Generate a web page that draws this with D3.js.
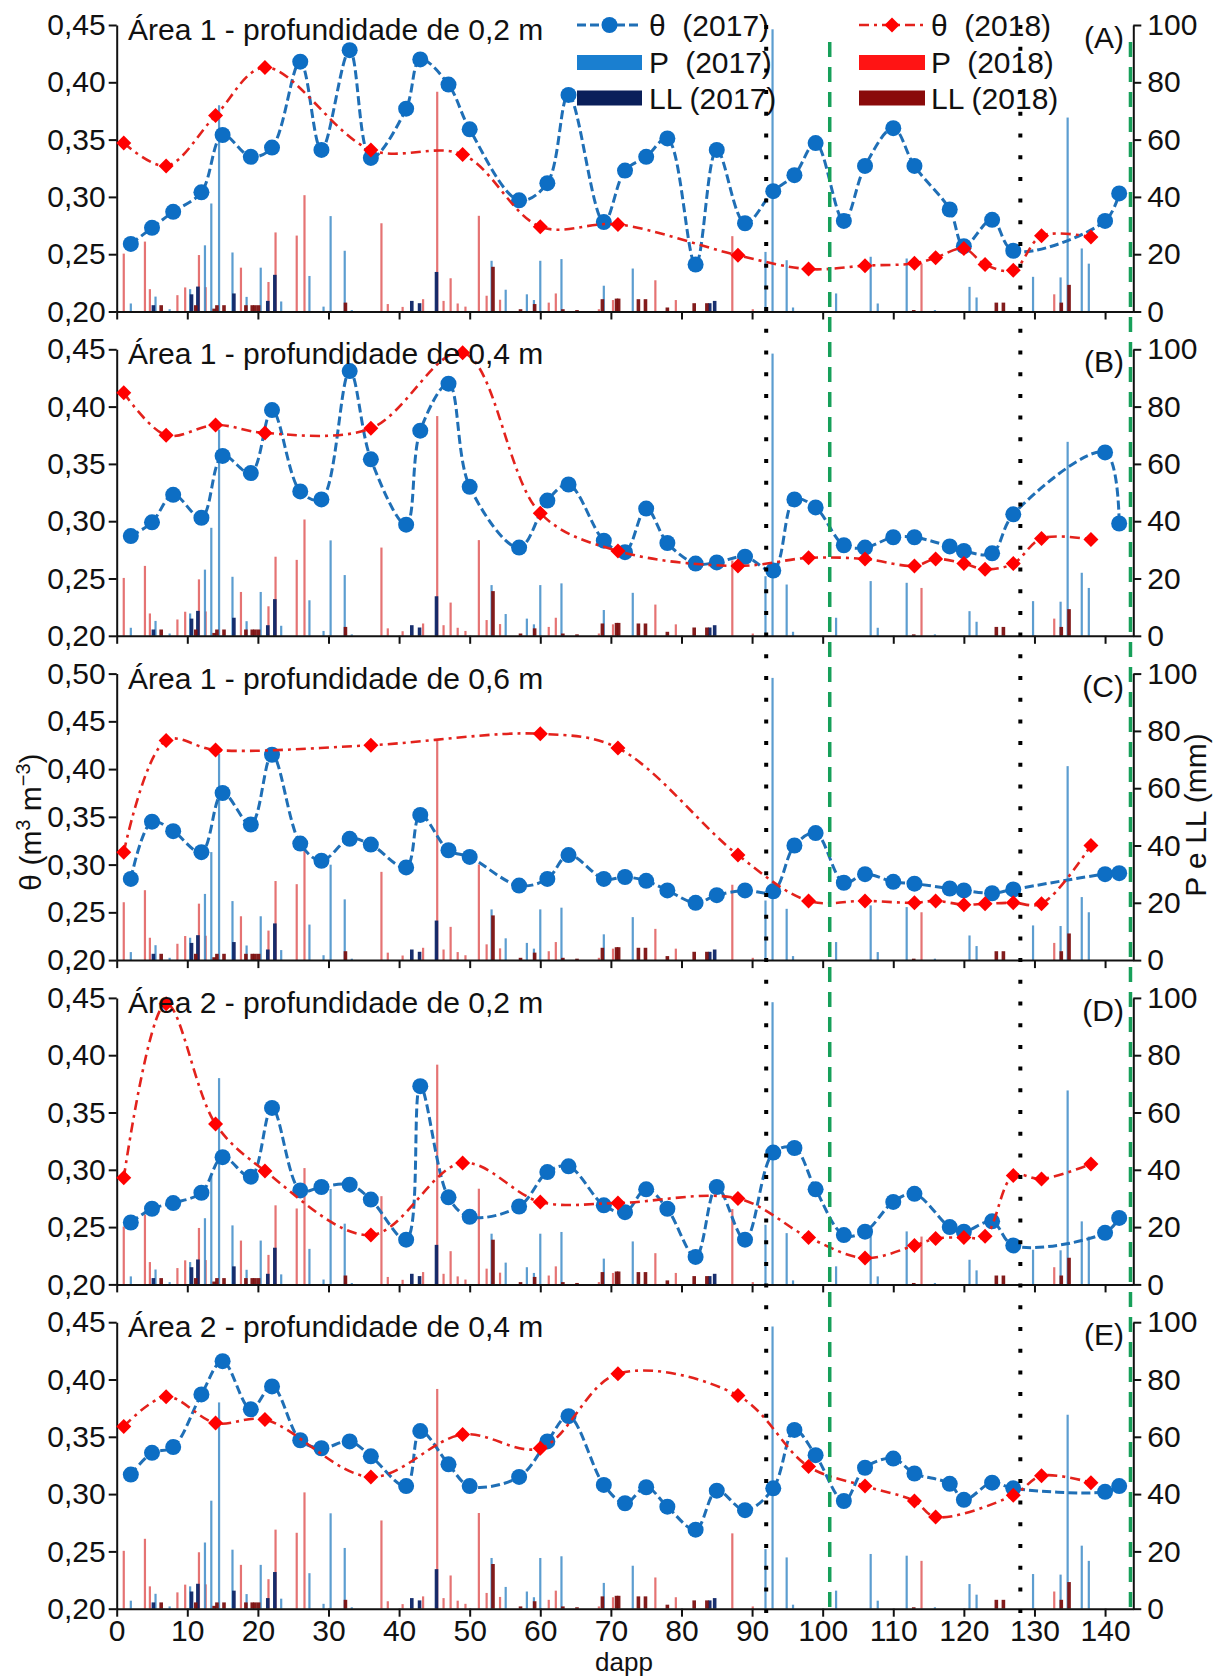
<!DOCTYPE html>
<html>
<head>
<meta charset="utf-8">
<script src="https://cdn.jsdelivr.net/npm/d3@7"></script>
<style>
  body { margin: 0; background: #fff; }
  svg { display: block; }
  text { font-family: "Liberation Sans", Arial, sans-serif; }
</style>
</head>
<body>
<svg id="chart" width="1215" height="1676"></svg>
<script>
// ---- soil water content (θ, m3 m-3) sampling days (dapp) ----
const days2017 = [2,5,8,12,15,19,22,26,29,33,36,41,43,47,50,57,61,64,69,72,75,78,82,85,89,93,96,99,103,106,110,113,118,120,124,127,140,142];
const days2018 = [1,7,14,21,36,49,60,71,88,98,106,113,116,120,123,127,131,138];

// θ 2017 per panel
const theta2017A = [0.259,0.273,0.287,0.304,0.354,0.335,0.343,0.418,0.341,0.428,0.334,0.377,0.420,0.398,0.359,0.297,0.312,0.389,0.278,0.323,0.335,0.351,0.241,0.341,0.277,0.305,0.319,0.347,0.279,0.327,0.360,0.327,0.289,0.257,0.280,0.253,0.279,0.303];
const theta2017B = [0.287,0.299,0.323,0.303,0.357,0.342,0.397,0.326,0.319,0.431,0.354,0.297,0.379,0.420,0.330,0.277,0.318,0.332,0.283,0.273,0.311,0.281,0.263,0.264,0.269,0.257,0.319,0.312,0.279,0.277,0.286,0.286,0.278,0.274,0.272,0.306,0.360,0.298];
const theta2017C = [0.285,0.345,0.335,0.313,0.375,0.342,0.415,0.322,0.304,0.327,0.321,0.297,0.352,0.315,0.308,0.278,0.285,0.310,0.285,0.287,0.283,0.273,0.260,0.268,0.273,0.272,0.320,0.333,0.281,0.290,0.282,0.280,0.275,0.273,0.270,0.274,0.290,0.291];
const theta2017D = [0.254,0.266,0.271,0.280,0.311,0.294,0.354,0.282,0.285,0.287,0.274,0.239,0.373,0.276,0.259,0.268,0.298,0.303,0.269,0.263,0.283,0.266,0.224,0.285,0.239,0.315,0.319,0.283,0.243,0.246,0.272,0.279,0.250,0.246,0.255,0.234,0.245,0.258];
const theta2017E = [0.317,0.336,0.341,0.387,0.416,0.374,0.394,0.347,0.340,0.346,0.333,0.307,0.355,0.326,0.307,0.315,0.346,0.368,0.308,0.292,0.306,0.289,0.269,0.303,0.286,0.305,0.356,0.334,0.294,0.323,0.331,0.318,0.309,0.295,0.310,0.305,0.302,0.307];

// θ 2018 per panel (null = not sampled)
const theta2018A = [0.347,0.327,0.371,0.413,0.341,0.337,0.274,0.276,0.249,0.237,0.240,0.242,0.247,0.255,0.241,0.236,0.266,0.265];
const theta2018B = [0.412,0.375,0.384,0.377,0.381,0.447,0.307,0.274,0.261,0.268,0.267,0.261,0.267,0.263,0.258,0.263,0.285,0.284];
const theta2018C = [0.313,0.430,0.420,null,0.425,null,0.437,0.422,0.310,0.262,0.262,0.260,0.262,0.258,0.259,0.260,0.259,0.320];
const theta2018D = [0.293,0.445,0.340,0.299,0.243,0.306,0.272,0.271,0.275,0.241,0.223,0.234,0.240,0.241,0.242,0.295,0.292,0.305];
const theta2018E = [0.359,0.385,0.362,0.365,0.315,0.352,0.340,0.405,0.386,0.324,0.307,0.294,0.280,null,null,0.299,0.316,0.310];

// ---- precipitation (P) and leaching / drainage (LL), mm ----
const p2017Days = [2,5.5,7.5,10.4,12.5,13.4,14.5,16.4,18.4,20.4,23.3,27.3,29.3,30.3,32.3,33.3,53.1,55.1,58.1,59.1,60,63,69,73.1,91.9,92.9,94.9,95.8,101.9,106.8,107.8,111.9,115.9,120.8,121.8,129.8,133.7,134.7,136.7,137.7];
const p2017Vals = [2.8,5.2,0.8,7.8,23.1,37.7,72,20.6,5.1,15.3,3.5,12.4,1.7,33.3,21.2,0.5,17.7,7.6,6,4,17.7,18.3,9,15,20.8,98.5,17.9,1.4,6.3,19.1,2.8,18.5,0.5,8.6,4.9,12.1,11.9,67.7,22,16.7];
const p2018Days = [1,4,4.7,8.6,9.7,11.65,12.6,17.6,21.5,22.5,25.5,26.6,37.5,38.4,40.5,43.4,45.4,46.3,47.3,48.3,49.4,51.3,52.4,54.3,61.2,62.2,68.3,70.3,76.3,79.2,87.2,90.1,114,132.8];
const p2018Vals = [20.2,24.4,7.8,5.7,8.4,19.7,8.5,15.3,10.3,27.6,26.5,40.6,30.8,2.6,1.6,4.3,76.7,3.7,11.6,2.8,1.7,33.4,5.5,4.1,3.1,6.3,0.8,4,10.9,4,26.3,0.8,16.7,6];
const ll2017Days = [5.2,10.6,11.5,16.6,21.4,22.4,41.8,42.9,45.3,84,84.7];
const ll2017Vals = [2.2,6,8.7,6.3,3.7,12.8,3.7,2.9,13.8,2.9,3.7];
const ll2018Days = [6.3,11.2,13.8,14.2,15.2,18.3,19.2,19.6,20.1,32.4,53.3,57.2,59.2,63.2,65.2,68.8,70.8,71.1,73.9,74.9,78,81.8,83.6,112.9,124.6,125.6,133.8,134.9];
const ll2018Vals = [2.2,2.2,1,2.2,2.2,2.2,2.2,2.2,2.2,3.1,15.6,0.8,2.6,0.8,0.5,4.3,4.5,4.5,4.3,4.3,1.4,2.9,2.9,0.5,3.1,3.1,3.1,9.3];

// ---- reference dates (dapp) ----
const dottedDays = [92, 128];
const dashedDays = [101, 143.6];

// ---- axis ticks ----
const xTicks = [0,10,20,30,40,50,60,70,80,90,100,110,120,130,140];
const rightTicks = [0,20,40,60,80,100];

const panelTitles = [
  "Área 1 - profundidade de 0,2 m",
  "Área 1 - profundidade de 0,4 m",
  "Área 1 - profundidade de 0,6 m",
  "Área 2 - profundidade de 0,2 m",
  "Área 2 - profundidade de 0,4 m"
];
const panelTags = ["(A)", "(B)", "(C)", "(D)", "(E)"];
const panelThetaMax = [0.45, 0.45, 0.50, 0.45, 0.45];
const series2017 = [theta2017A, theta2017B, theta2017C, theta2017D, theta2017E];
const series2018 = [theta2018A, theta2018B, theta2018C, theta2018D, theta2018E];

// ---- layout ----
const FONT = 30;
const left = 116.7, right = 1133.3;
const firstTop = 25, panelStep = 324.3, panelH = 286.5;

const COL = {
  line17: "#1f6fb6", dot17: "#0d6ec4",
  line18: "#e3221c", dot18: "#ff0000",
  p17: "#3f8cc8", p18: "#e05a5a",
  ll17: "#0c2466", ll18: "#7c1010",
  legP17: "#1a7fd0", legP18: "#ff1414", legLL17: "#0a1f5a", legLL18: "#8a0a0a",
  green: "#17a05a", axis: "#111"
};

const svg = d3.select("#chart");
const x = d3.scaleLinear().domain([0, 144]).range([left, right]);
const fmtTheta = d => d.toFixed(2).replace(".", ",");
const diamond = "M0,-7.5L7.5,0L0,7.5L-7.5,0Z";

function styleAxis(g) {
  g.attr("font-size", FONT).attr("font-family", '"Liberation Sans", Arial, sans-serif');
  g.select(".domain").attr("stroke", COL.axis).attr("stroke-width", 2);
  g.selectAll(".tick line").attr("stroke", COL.axis).attr("stroke-width", 2);
  g.selectAll(".tick text").attr("fill", COL.axis);
}

function drawBars(g, yR, daysArr, vals, color, w, opacity) {
  const base = yR(0);
  g.selectAll(null)
    .data(daysArr.map((d, i) => ({ d, v: vals[i] })))
    .join("rect")
    .attr("x", p => x(p.d) - w / 2)
    .attr("y", p => yR(p.v))
    .attr("width", w)
    .attr("height", p => base - yR(p.v))
    .attr("fill", color)
    .attr("opacity", opacity);
}

const line = (yL) => d3.line()
  .x(p => x(p.d))
  .y(p => yL(p.v))
  .curve(d3.curveCatmullRom.alpha(0.5));

panelTitles.forEach((title, i) => {
  const top = firstTop + i * panelStep;
  const bottom = top + panelH;
  const yMax = panelThetaMax[i];
  const yL = d3.scaleLinear().domain([0.20, yMax]).range([bottom, top]);
  const yR = d3.scaleLinear().domain([0, 100]).range([bottom, top]);
  const g = svg.append("g");

  // rainfall and drainage bars
  const bars = g.append("g");
  drawBars(bars, yR, p2018Days, p2018Vals, COL.p18, 2.2, 0.85);
  drawBars(bars, yR, p2017Days, p2017Vals, COL.p17, 2.2, 0.85);
  drawBars(bars, yR, ll2017Days, ll2017Vals, COL.ll17, 3.6, 0.95);
  drawBars(bars, yR, ll2018Days, ll2018Vals, COL.ll18, 3.6, 0.95);

  // axes
  const leftTicks = d3.range(0.20, yMax + 0.001, 0.05);
  g.append("g").attr("transform", `translate(${left},0)`)
    .call(d3.axisLeft(yL).tickValues(leftTicks).tickFormat(fmtTheta).tickSize(8).tickSizeOuter(0).tickPadding(3))
    .call(styleAxis);
  g.append("g").attr("transform", `translate(${right},0)`)
    .call(d3.axisRight(yR).tickValues(rightTicks).tickSize(8).tickSizeOuter(0).tickPadding(6))
    .call(styleAxis);
  const isLast = i === panelTitles.length - 1;
  g.append("g").attr("transform", `translate(0,${bottom})`)
    .call(d3.axisBottom(x).tickValues(xTicks).tickFormat(isLast ? d3.format("d") : () => "")
      .tickSize(8).tickSizeOuter(0).tickPadding(3))
    .call(styleAxis);

  // θ 2017
  const s17 = days2017.map((d, k) => ({ d, v: series2017[i][k] })).filter(p => p.v != null);
  g.append("path").datum(s17).attr("d", line(yL))
    .attr("fill", "none").attr("stroke", COL.line17).attr("stroke-width", 3)
    .attr("stroke-dasharray", "9,4");
  g.selectAll(null).data(s17).join("circle")
    .attr("cx", p => x(p.d)).attr("cy", p => yL(p.v)).attr("r", 8)
    .attr("fill", COL.dot17);

  // θ 2018
  const s18 = days2018.map((d, k) => ({ d, v: series2018[i][k] })).filter(p => p.v != null);
  g.append("path").datum(s18).attr("d", line(yL))
    .attr("fill", "none").attr("stroke", COL.line18).attr("stroke-width", 2.6)
    .attr("stroke-dasharray", "10,5,3,5");
  g.selectAll(null).data(s18).join("path")
    .attr("transform", p => `translate(${x(p.d)},${yL(p.v)})`)
    .attr("d", diamond).attr("fill", COL.dot18);

  // panel title and tag
  g.append("text").attr("x", 128).attr("y", top + 15)
    .attr("font-size", FONT).attr("fill", "#111").text(title);
  g.append("text").attr("x", 1124).attr("y", top + 23).attr("text-anchor", "end")
    .attr("font-size", FONT).attr("fill", "#111").text(panelTags[i]);
});

// x-axis title
svg.append("text").attr("x", 624).attr("y", 1670.8).attr("text-anchor", "middle")
  .attr("font-size", 26).attr("fill", "#111").text("dapp");

// left axis title: θ (m3 m-3)
const yt = svg.append("text").attr("transform", "translate(41,822) rotate(-90)")
  .attr("text-anchor", "middle").attr("font-size", FONT).attr("fill", "#111");
yt.append("tspan").text("θ (m");
yt.append("tspan").attr("dy", -11).attr("font-size", 20).text("3");
yt.append("tspan").attr("dy", 11).text(" m");
yt.append("tspan").attr("dy", -11).attr("font-size", 20).text("−3");
yt.append("tspan").attr("dy", 11).text(")");

// right axis title
svg.append("text").attr("transform", "translate(1206,815) rotate(-90)")
  .attr("text-anchor", "middle").attr("font-size", FONT).attr("fill", "#111")
  .text("P e LL (mm)");

// legend (panel A)
const leg = svg.append("g");
const rows = [25, 62.5, 98];
function legendColumn(x0, x1, tx, year, lineCol, dotCol, dash, marker, pCol, llCol) {
  const cx = (x0 + x1) / 2;
  leg.append("line").attr("x1", x0).attr("x2", x1).attr("y1", rows[0]).attr("y2", rows[0])
    .attr("stroke", lineCol).attr("stroke-width", marker === "circle" ? 3 : 2.6)
    .attr("stroke-dasharray", dash);
  if (marker === "circle") {
    leg.append("circle").attr("cx", cx).attr("cy", rows[0]).attr("r", 8).attr("fill", dotCol);
  } else {
    leg.append("path").attr("transform", `translate(${cx},${rows[0]})`).attr("d", diamond).attr("fill", dotCol);
  }
  leg.append("rect").attr("x", x0).attr("y", rows[1] - 7.5).attr("width", x1 - x0).attr("height", 15).attr("fill", pCol);
  leg.append("rect").attr("x", x0).attr("y", rows[2] - 7.5).attr("width", x1 - x0).attr("height", 15).attr("fill", llCol);
  const labels = [`θ  (${year})`, `P  (${year})`, `LL (${year})`];
  labels.forEach((t, k) => {
    leg.append("text").attr("x", tx).attr("y", rows[k] + 10.5)
      .attr("font-size", FONT).attr("fill", "#111").style("white-space", "pre").text(t);
  });
}
legendColumn(577, 642, 649, 2017, COL.line17, COL.dot17, "9,4", "circle", COL.legP17, COL.legLL17);
legendColumn(859, 925, 931, 2018, COL.line18, COL.dot18, "10,5,3,5", "diamond", COL.legP18, COL.legLL18);

// reference dates spanning all panels
const refs = svg.append("g");
dottedDays.forEach(d => {
  refs.append("line").attr("x1", x(d)).attr("x2", x(d)).attr("y1", 25).attr("y2", 1619)
    .attr("stroke", "#000").attr("stroke-width", 4).attr("stroke-dasharray", "4,17.7");
});
dashedDays.forEach(d => {
  refs.append("line").attr("x1", x(d)).attr("x2", x(d)).attr("y1", 42).attr("y2", 1614)
    .attr("stroke", COL.green).attr("stroke-width", 3.5).attr("stroke-dasharray", "15,10");
});
</script>
</body>
</html>
